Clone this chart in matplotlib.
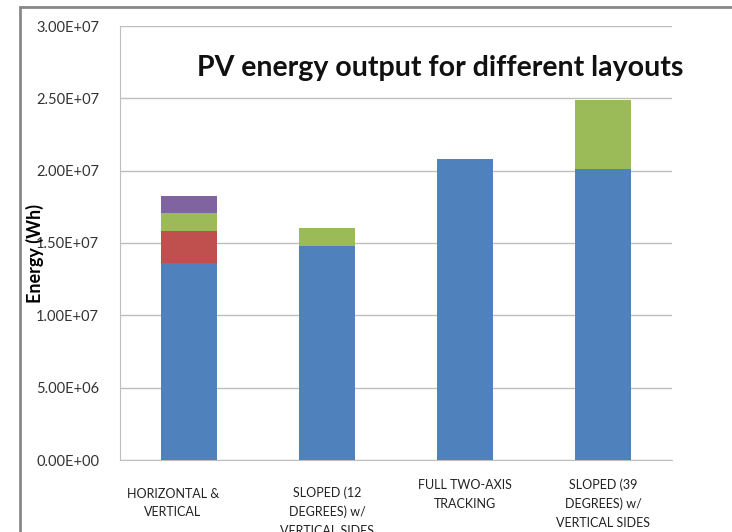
import matplotlib.pyplot as plt
from matplotlib.patches import Rectangle
from matplotlib.transforms import ScaledTranslation
import numpy as np

# Data (Wh)
categories = ["HORIZONTAL &\nVERTICAL",
              "SLOPED (12\nDEGREES) w/\nVERTICAL SIDES",
              "FULL TWO-AXIS\nTRACKING",
              "SLOPED (39\nDEGREES) w/\nVERTICAL SIDES"]
series1 = [1.36e7, 1.48e7, 2.08e7, 2.01e7]
series2 = [2.2e6, 0, 0, 0]
series3 = [1.25e6, 1.26e6, 0, 4.8e6]
series4 = [1.2e6, 0, 0, 0]
yticks = [0, 5e6, 1e7, 1.5e7, 2e7, 2.5e7, 3e7]
ytick_labels = ["0.00E+00", "5.00E+06", "1.00E+07", "1.50E+07",
                "2.00E+07", "2.50E+07", "3.00E+07"]

colors = ["#4F81BD", "#C0504D", "#9BBB59", "#8064A2"]

plt.rcParams['font.family'] = ['Lato', 'DejaVu Sans']

fig = plt.figure(figsize=(7.32, 5.32), dpi=100)
ax = fig.add_axes([120 / 732, 1 - 460 / 532, 552 / 732, 434 / 532])

x = np.arange(len(categories))
bottom = np.zeros(len(categories))
for vals, c in zip([series1, series2, series3, series4], colors):
    ax.bar(x, vals, width=0.4, bottom=bottom, color=c, zorder=3)
    bottom = bottom + np.array(vals)

ax.set_xlim(-0.5, len(categories) - 0.5)
ax.set_ylim(0, 3e7)
ax.set_yticks(yticks)
ax.set_yticklabels(ytick_labels, fontsize=10.5, color="#333333")
ax.set_xticks(x)
ax.set_xticklabels(categories, fontsize=9, color="#222222",
                   linespacing=1.65, family=['Liberation Sans Narrow', 'Lato', 'DejaVu Sans'])
ax.tick_params(axis='x', length=0)
ax.tick_params(axis='y', length=0, pad=15)
pads = [20, 19, 14, 13]
for tick, p in zip(ax.xaxis.get_major_ticks(), pads):
    tick.set_pad(p)
# first label sits a bit left of its bar in the original
lab0 = ax.get_xticklabels()[0]
lab0.set_transform(lab0.get_transform() + ScaledTranslation(-0.16, 0, fig.dpi_scale_trans))

ax.grid(axis='y', color="#BFBFBF", linewidth=1, zorder=0)
for s in ['top', 'right']:
    ax.spines[s].set_visible(False)
ax.spines['left'].set_color("#BFBFBF")
ax.spines['bottom'].set_color("#BFBFBF")

ax.set_ylabel("Energy (Wh)", fontsize=13, fontweight='bold')
ax.yaxis.set_label_coords(-0.137, 0.476)

fig.text(440 / 732, 1 - 68 / 532, "PV energy output for different layouts",
         fontsize=20.5, fontweight='bold', ha='center', va='center', color="#111111")

# outer chart frame (left and top edges visible)
fig.patches.append(Rectangle((20 / 732, -0.05), 1.0, 1 - 7 / 532 + 0.05,
                             transform=fig.transFigure, fill=False,
                             edgecolor="#888888", linewidth=2))

fig.savefig("out.png", dpi=100)
